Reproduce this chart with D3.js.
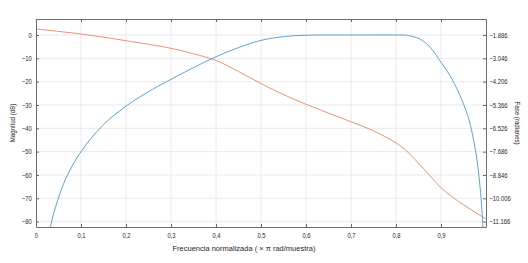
<!DOCTYPE html>
<html>
<head>
<meta charset="utf-8">
<script src="https://cdn.jsdelivr.net/npm/d3@7"></script>
<style>
  body { margin: 0; background: #fff; }
  svg text { font-family: "Liberation Sans", Arial, sans-serif; fill: #262626; }
</style>
</head>
<body>
<div id="chart"></div>
<script>
// magnitude response (dB)
var magFreq = [0.026, 0.033, 0.044, 0.067, 0.1, 0.148, 0.2, 0.259, 0.3, 0.35, 0.4, 0.45, 0.5, 0.55, 0.6, 0.7, 0.8, 0.823, 0.853, 0.876, 0.9, 0.92, 0.94, 0.96, 0.97, 0.98, 0.99, 0.996];
var magDb   = [-90, -81.5, -73.4, -61.2, -50, -38.8, -30.5, -23.3, -19.0, -14.0, -9.3, -5.4, -2.3, -0.7, -0.1, 0, 0, -0.1, -1.7, -5.3, -11.7, -17.4, -25.0, -34.9, -42.7, -53.6, -72.4, -95];

// phase response (radians)
var phaseFreq = [0, 0.1, 0.2, 0.3, 0.35, 0.4, 0.45, 0.5, 0.55, 0.6, 0.65, 0.7, 0.75, 0.8, 0.82, 0.84, 0.86, 0.88, 0.9, 0.92, 0.94, 0.96, 0.98, 1.0];
var phaseRad  = [-1.588, -1.836, -2.169, -2.547, -2.82, -3.15, -3.70, -4.30, -4.85, -5.33, -5.77, -6.20, -6.65, -7.25, -7.58, -8.02, -8.50, -9.00, -9.48, -9.85, -10.18, -10.47, -10.76, -11.03];

var xTicks = [0, 0.1, 0.2, 0.3, 0.4, 0.5, 0.6, 0.7, 0.8, 0.9];
var leftTicks = [0, -10, -20, -30, -40, -50, -60, -70, -80];
var rightTicks = [-1.886, -3.046, -4.206, -5.366, -6.526, -7.686, -8.846, -10.006, -11.166];

var width = 528, height = 263;
var margin = { left: 36, top: 19, right: 42, bottom: 36 };
var innerWidth = width - margin.left - margin.right;
var innerHeight = height - margin.top - margin.bottom;

var svg = d3.select("#chart").append("svg")
    .attr("width", width)
    .attr("height", height);

var g = svg.append("g")
    .attr("transform", "translate(" + margin.left + "," + margin.top + ")");

var x = d3.scaleLinear().domain([0, 1]).range([0, innerWidth]);
var yL = d3.scaleLinear().domain([-82.3, 6.86]).range([innerHeight, 0]);
var yR = d3.scaleLinear().domain([-11.432, -1.090]).range([innerHeight, 0]);

var comma = function(d) { return d === 0 ? "0" : d3.format(".1f")(d).replace(".", ","); };
var minus = function(s) { return String(s).replace("-", "\u2212"); };

// grid
g.append("g").selectAll("line").data(xTicks.slice(1)).enter().append("line")
    .attr("x1", function(d) { return x(d); }).attr("x2", function(d) { return x(d); })
    .attr("y1", 0).attr("y2", innerHeight)
    .attr("stroke", "#e4e4e4").attr("stroke-width", 0.8);
g.append("g").selectAll("line").data(leftTicks).enter().append("line")
    .attr("y1", function(d) { return yL(d); }).attr("y2", function(d) { return yL(d); })
    .attr("x1", 0).attr("x2", innerWidth)
    .attr("stroke", "#e4e4e4").attr("stroke-width", 0.8);

// clip
svg.append("defs").append("clipPath").attr("id", "clip")
  .append("rect").attr("width", innerWidth).attr("height", innerHeight);

var magLine = d3.line()
    .x(function(d, i) { return x(magFreq[i]); })
    .y(function(d) { return yL(d); })
    .curve(d3.curveCatmullRom.alpha(0.5));
var phaseLine = d3.line()
    .x(function(d, i) { return x(phaseFreq[i]); })
    .y(function(d) { return yR(d); })
    .curve(d3.curveCatmullRom.alpha(0.5));

var plot = g.append("g").attr("clip-path", "url(#clip)");
plot.append("path").attr("d", phaseLine(phaseRad))
    .attr("fill", "none").attr("stroke", "#e8856a").attr("stroke-width", 0.9);
plot.append("path").attr("d", magLine(magDb))
    .attr("fill", "none").attr("stroke", "#4a9ad4").attr("stroke-width", 0.9);

// axes (ticks inside, like matlab)
var axColor = "#6b6b6b";
var xAxis = d3.axisBottom(x).tickValues(xTicks).tickFormat(comma).tickSizeInner(-3).tickSizeOuter(0).tickPadding(6);
var xTop = d3.axisTop(x).tickValues(xTicks).tickFormat("").tickSizeInner(-3).tickSizeOuter(0);
var yAxisL = d3.axisLeft(yL).tickValues(leftTicks).tickFormat(minus).tickSizeInner(-3).tickSizeOuter(0).tickPadding(5);
var yAxisR = d3.axisRight(yR).tickValues(rightTicks).tickFormat(function(d) { return minus(d3.format(".3f")(d)); })
    .tickSizeInner(-3).tickSizeOuter(0).tickPadding(4);

// narrow tick labels: squeeze horizontally
function style(sel) {
    sel.select(".domain").attr("stroke", axColor);
    sel.selectAll(".tick line").attr("stroke", axColor);
    sel.selectAll(".tick text").attr("font-size", 7).attr("fill", "#262626")
        .attr("font-family", "Liberation Sans, Arial, sans-serif")
        .attr("transform", "scale(0.84,1)");
}

g.append("g").attr("transform", "translate(0," + innerHeight + ")").call(xAxis).call(style);
g.append("g").call(xTop).call(style);
g.append("g").call(yAxisL).call(style);
g.append("g").attr("transform", "translate(" + innerWidth + ",0)").call(yAxisR).call(style);

// labels
svg.append("text")
    .attr("x", 244).attr("y", 251)
    .attr("text-anchor", "middle").attr("font-size", 7.5)
    .text("Frecuencia normalizada ( \u00d7  \u03c0 rad/muestra)");

svg.append("text")
    .attr("transform", "translate(15," + (margin.top + innerHeight / 2) + ") rotate(-90) scale(0.88,1)")
    .attr("text-anchor", "middle").attr("font-size", 7)
    .text("Magnitud (dB)");

svg.append("text")
    .attr("transform", "translate(515," + (margin.top + innerHeight / 2) + ") rotate(90) scale(0.88,1)")
    .attr("text-anchor", "middle").attr("font-size", 7)
    .text("Fase (radianes)");
</script>
</body>
</html>
